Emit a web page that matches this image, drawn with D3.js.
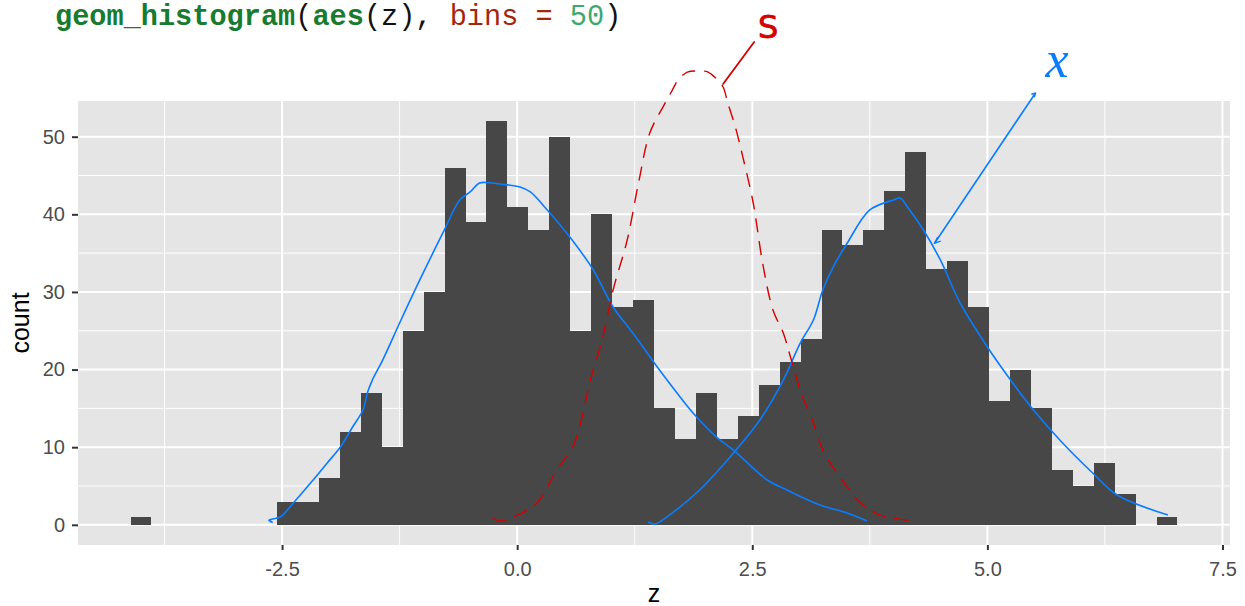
<!DOCTYPE html>
<html>
<head>
<meta charset="utf-8">
<script src="https://cdn.jsdelivr.net/npm/d3@7"></script>
<style>
  body { margin: 0; background: #fff; }
  svg { display: block; }
</style>
</head>
<body>
<div id="chart"></div>
<script>
// histogram of z, bins = 50 (counts)
const zMin = -4.0;
const zMax = 6.91;
const binCounts = [
  1, 0, 0, 0, 0, 0, 0, 3, 3, 6,
  12, 17, 10, 25, 30, 46, 39, 52, 41, 38,
  50, 25, 40, 28, 29, 15, 11, 17, 11, 14,
  18, 21, 24, 38, 36, 38, 43, 48, 33, 34,
  28, 16, 20, 15, 7, 5, 8, 4, 0, 1
];
const xTicks = [-2.5, 0, 2.5, 5, 7.5];
const xTickLabels = ['-2.5', '0.0', '2.5', '5.0', '7.5'];
const xMinor = [-3.75, -1.25, 1.25, 3.75, 6.25];
const yTicks = [0, 10, 20, 30, 40, 50];
const yMinor = [5, 15, 25, 35, 45];

// hand-drawn annotations, in (z, count) units
const blueLeft = [
  [-2.60, 0.3], [-2.64, 0.6], [-2.60, 0.75], [-2.52, 1.0], [-2.38, 2.81], [-2.17, 5.77], [-2.02, 7.96],
  [-1.88, 10.02], [-1.75, 12.6], [-1.64, 14.79], [-1.59, 17.1], [-1.54, 18.65],
  [-1.43, 21.23], [-1.25, 26.0], [-1.02, 31.93], [-0.79, 37.6], [-0.61, 41.85],
  [-0.50, 42.88], [-0.40, 44.04], [-0.27, 44.04], [-0.18, 43.9], [0.03, 43.52],
  [0.14, 42.88], [0.32, 40.56], [0.56, 37.08], [0.81, 32.83], [1.02, 28.06],
  [1.23, 24.71], [1.49, 20.33], [1.70, 16.98], [1.87, 14.41], [2.12, 11.3],
  [2.30, 9.63], [2.66, 5.77], [2.87, 4.48], [3.22, 2.55], [3.51, 1.52], [3.72, 0.49]
];
const blueRight = [
  [1.39, 0.36], [1.47, 0.1], [1.59, 1.0], [1.94, 4.48], [2.30, 9.25],
  [2.58, 13.5], [2.83, 18.65], [3.01, 23.42], [3.15, 26.39], [3.25, 30.25],
  [3.36, 33.21], [3.51, 36.3], [3.75, 40.56], [4.00, 41.85], [4.07, 42.1],
  [4.15, 40.94], [4.32, 37.98], [4.50, 34.12], [4.71, 28.58], [5.00, 22.91],
  [5.27, 18.27], [5.49, 14.79], [5.80, 10.54], [6.12, 6.67], [6.38, 3.84], [6.92, 1.26]
];
const redLoop = [
  [-0.26, 0.88], [-0.18, 0.49], [-0.04, 1.0], [0.21, 2.81], [0.42, 7.06],
  [0.59, 10.02], [0.69, 13.89], [0.77, 18.27], [0.91, 24.2], [1.02, 30.25],
  [1.17, 36.69], [1.29, 44.03], [1.41, 50.47], [1.55, 53.82], [1.65, 56.0],
  [1.71, 57.3], [1.81, 58.33], [1.91, 58.46], [2.03, 58.33], [2.13, 57.3],
  [2.19, 56.4], [2.24, 54.34], [2.32, 51.25], [2.40, 47.38], [2.51, 41.46],
  [2.61, 33.73], [2.72, 27.67], [2.83, 24.71], [2.90, 21.88], [3.01, 17.37],
  [3.15, 13.12], [3.25, 9.65], [3.40, 6.69], [3.51, 4.87], [3.65, 2.81],
  [3.86, 1.26], [4.21, 0.49]
];
const redPointer = [[2.19, 56.8], [2.52, 62.2]];
const bluePointer = [[5.51, 55.6], [4.44, 36.3]];

const width = 1245, height = 606;
const panel = {left: 78, right: 1230, top: 101, bottom: 545};

const svg = d3.select('#chart').append('svg')
  .attr('width', width)
  .attr('height', height);

const x = d3.scaleLinear().domain([-4.67, 7.58]).range([panel.left, panel.right]);
const y = d3.scaleLinear().domain([-2.6, 54.6]).range([panel.bottom, panel.top]);

// panel background + grid
svg.append('rect')
  .attr('x', panel.left).attr('y', panel.top)
  .attr('width', panel.right - panel.left).attr('height', panel.bottom - panel.top)
  .attr('fill', '#e5e5e5');

const grid = svg.append('g');
grid.selectAll('.ymin').data(yMinor).enter().append('line')
  .attr('x1', panel.left).attr('x2', panel.right)
  .attr('y1', (d) => y(d)).attr('y2', (d) => y(d))
  .attr('stroke', '#fff').attr('stroke-width', 1);
grid.selectAll('.xmin').data(xMinor).enter().append('line')
  .attr('y1', panel.top).attr('y2', panel.bottom)
  .attr('x1', (d) => x(d)).attr('x2', (d) => x(d))
  .attr('stroke', '#fff').attr('stroke-width', 1);
grid.selectAll('.ymaj').data(yTicks).enter().append('line')
  .attr('x1', panel.left).attr('x2', panel.right)
  .attr('y1', (d) => y(d)).attr('y2', (d) => y(d))
  .attr('stroke', '#fff').attr('stroke-width', 2);
grid.selectAll('.xmaj').data(xTicks).enter().append('line')
  .attr('y1', panel.top).attr('y2', panel.bottom)
  .attr('x1', (d) => x(d)).attr('x2', (d) => x(d))
  .attr('stroke', '#fff').attr('stroke-width', 2);

// bars
const binW = (zMax - zMin) / (binCounts.length - 1);
const bins = binCounts.map((c, i) => ({z: zMin + i * binW, count: c}));

svg.append('g').selectAll('rect')
  .data(bins.filter((d) => d.count > 0))
  .enter().append('rect')
  .attr('x', (d) => x(d.z - binW / 2))
  .attr('width', (d) => x(d.z + binW / 2) - x(d.z - binW / 2))
  .attr('y', (d) => y(d.count))
  .attr('height', (d) => y(0) - y(d.count))
  .attr('fill', '#474747')
  .attr('shape-rendering', 'crispEdges');

// axes
const xAxis = svg.append('g').attr('transform', `translate(0,${panel.bottom})`)
  .call(d3.axisBottom(x).tickValues(xTicks).tickSize(5).tickPadding(7)
    .tickFormat((d, i) => xTickLabels[i]));
const yAxis = svg.append('g').attr('transform', `translate(${panel.left},0)`)
  .call(d3.axisLeft(y).tickValues(yTicks).tickSize(6).tickPadding(7));
[xAxis, yAxis].forEach((ax) => {
  ax.select('.domain').remove();
  ax.selectAll('line').attr('stroke', '#333').attr('stroke-width', 2);
  ax.selectAll('text')
    .attr('fill', '#4d4d4d')
    .style('font-family', 'Liberation Sans, Arial, sans-serif')
    .style('font-size', '20px');
});
xAxis.selectAll('text').attr('dy', '0.95em');

svg.append('text')
  .attr('x', (panel.left + panel.right) / 2).attr('y', 602)
  .attr('text-anchor', 'middle')
  .style('font-family', 'Liberation Sans, Arial, sans-serif')
  .style('font-size', '25px')
  .text('z');
svg.append('text')
  .attr('transform', `translate(29,${(panel.top + panel.bottom) / 2}) rotate(-90)`)
  .attr('text-anchor', 'middle')
  .style('font-family', 'Liberation Sans, Arial, sans-serif')
  .style('font-size', '25px')
  .text('count');

// code line on top
const code = svg.append('text')
  .attr('x', 55).attr('y', 25)
  .style('font-family', 'Liberation Mono, Courier New, monospace')
  .style('font-size', '28.6px');
[
  ['geom_histogram', '#187b30', 'bold'],
  ['(', '#111', 'normal'],
  ['aes', '#187b30', 'bold'],
  ['(z), ', '#111', 'normal'],
  ['bins = ', '#a3260c', 'normal'],
  ['50', '#3ea86e', 'normal'],
  [')', '#111', 'normal']
].forEach(([t, c, w]) => {
  code.append('tspan').attr('fill', c).attr('font-weight', w).text(t);
});

// pen annotations
const pen = d3.line().x((d) => x(d[0])).y((d) => y(d[1])).curve(d3.curveCatmullRom);
const blue = '#0a7cff', red = '#d40000';

svg.append('path').attr('d', pen(blueLeft))
  .attr('fill', 'none').attr('stroke', blue).attr('stroke-width', 1.6);
svg.append('path').attr('d', pen(blueRight))
  .attr('fill', 'none').attr('stroke', blue).attr('stroke-width', 1.6);
svg.append('path').attr('d', pen(redLoop))
  .attr('fill', 'none').attr('stroke', red).attr('stroke-width', 1.4)
  .attr('stroke-dasharray', '14,9');
svg.append('path').attr('d', pen(redPointer))
  .attr('fill', 'none').attr('stroke', red).attr('stroke-width', 1.8)
  .attr('stroke-linecap', 'round');
svg.append('path').attr('d', pen(bluePointer))
  .attr('fill', 'none').attr('stroke', blue).attr('stroke-width', 1.6)
  .attr('stroke-linecap', 'round');

// small arrow heads on the blue pointer
const tipEnd = bluePointer[1];
svg.append('path')
  .attr('d', `M${x(tipEnd[0]) + 3},${y(tipEnd[1]) - 6} L${x(tipEnd[0])},${y(tipEnd[1])} L${x(tipEnd[0]) + 6},${y(tipEnd[1]) - 2}`)
  .attr('fill', 'none').attr('stroke', blue).attr('stroke-width', 1.4);
const tipStart = bluePointer[0];
svg.append('path')
  .attr('d', `M${x(tipStart[0]) - 4},${y(tipStart[1]) + 1} L${x(tipStart[0])},${y(tipStart[1])} L${x(tipStart[0]) - 1},${y(tipStart[1]) + 4}`)
  .attr('fill', 'none').attr('stroke', blue).attr('stroke-width', 1.4);

svg.append('text')
  .attr('x', x(2.67)).attr('y', 38)
  .attr('text-anchor', 'middle')
  .attr('fill', red)
  .attr('stroke', red)
  .attr('stroke-width', 0.8)
  .style('font-family', 'DejaVu Sans, sans-serif')
  .style('font-size', '32px')
  .text('S');
svg.append('text')
  .attr('x', x(5.74)).attr('y', 77)
  .attr('text-anchor', 'middle')
  .attr('fill', blue)
  .style('font-family', 'Liberation Serif, serif')
  .style('font-style', 'italic')
  .style('font-size', '52px')
  .text('x');
</script>
</body>
</html>
